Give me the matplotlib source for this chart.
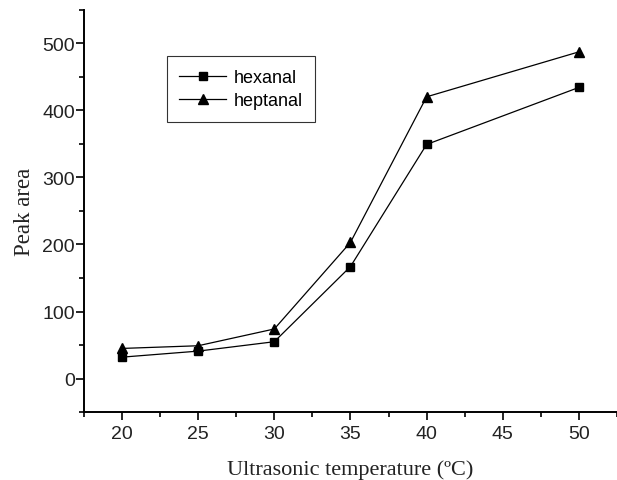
import matplotlib
matplotlib.use("Agg")
import matplotlib.pyplot as plt
from matplotlib.ticker import MultipleLocator

temperature = [20, 25, 30, 35, 40, 50]
hexanal = [32, 41, 55, 167, 349, 434]
heptanal = [45, 49, 74, 203, 420, 487]
x_ticks = [20, 25, 30, 35, 40, 45, 50]
y_ticks = [0, 100, 200, 300, 400, 500]

fig = plt.figure(figsize=(6.17, 4.81), dpi=100)
ax = fig.add_axes([0.136, 0.141, 0.864, 0.837])

ax.plot(temperature, hexanal, color="black", lw=0.9, marker="s", ms=5.5, label="hexanal")
ax.plot(temperature, heptanal, color="black", lw=0.9, marker="^", ms=7, label="heptanal")

ax.set_xlim(17.5, 52.5)
ax.set_ylim(-50, 550)
ax.set_xticks(x_ticks)
ax.set_yticks(y_ticks)
ax.xaxis.set_minor_locator(MultipleLocator(2.5))
ax.yaxis.set_minor_locator(MultipleLocator(50))

for s in ["top", "right"]:
    ax.spines[s].set_visible(False)
for s in ["left", "bottom"]:
    ax.spines[s].set_linewidth(1.4)

ax.tick_params(which="major", direction="out", length=6, width=1.2, labelsize=14)
ax.tick_params(axis="x", which="major", pad=3)
ax.tick_params(axis="y", which="major", pad=0.5)
ax.tick_params(which="minor", direction="out", length=3.5, width=1.2)
for lab in ax.get_xticklabels() + ax.get_yticklabels():
    lab.set_family("Liberation Sans")
    lab.set_color("#222222")

ax.set_xlabel("Ultrasonic temperature (ºC)", family="Liberation Serif", fontsize=16,
              labelpad=13, color="#222222")
ax.set_ylabel("Peak area", family="Liberation Serif", fontsize=16.5, labelpad=5,
              color="#222222")

leg = ax.legend(loc="upper left", bbox_to_anchor=(0.155, 0.884), borderaxespad=0,
                frameon=True, fancybox=False, edgecolor="black",
                prop={"family": "Liberation Sans", "size": 13},
                handlelength=2.6, handletextpad=0.4, labelspacing=0.35,
                borderpad=0.7)
leg.get_frame().set_linewidth(0.8)

fig.savefig("out.png", dpi=100)
